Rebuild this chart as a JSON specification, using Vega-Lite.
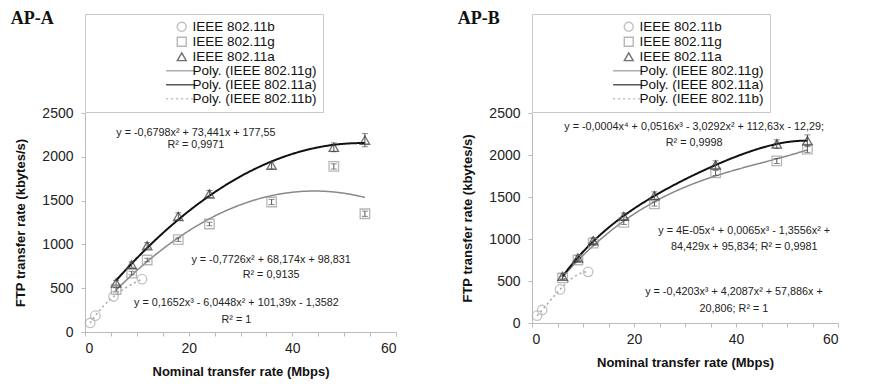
{
  "$schema": "https://vega.github.io/schema/vega-lite/v6.json",
  "background": "white",
  "padding": {"left": 10, "top": 9, "right": 5, "bottom": 5},
  "datasets": {
    "A": [
      {"x": 1, "y": 103, "err": 0, "pt": "IEEE 802.11b", "fit": "Poly. (IEEE 802.11b)"},
      {"x": 2, "y": 186, "err": 0, "pt": "IEEE 802.11b", "fit": "Poly. (IEEE 802.11b)"},
      {"x": 5.5, "y": 405, "err": 0, "pt": "IEEE 802.11b", "fit": "Poly. (IEEE 802.11b)"},
      {"x": 11, "y": 603, "err": 0, "pt": "IEEE 802.11b", "fit": "Poly. (IEEE 802.11b)"},
      {"x": 6, "y": 485, "err": 20, "pt": "IEEE 802.11g", "fit": "Poly. (IEEE 802.11g)"},
      {"x": 9, "y": 673, "err": 20, "pt": "IEEE 802.11g", "fit": "Poly. (IEEE 802.11g)"},
      {"x": 12, "y": 822, "err": 20, "pt": "IEEE 802.11g", "fit": "Poly. (IEEE 802.11g)"},
      {"x": 18, "y": 1054, "err": 20, "pt": "IEEE 802.11g", "fit": "Poly. (IEEE 802.11g)"},
      {"x": 24, "y": 1233, "err": 20, "pt": "IEEE 802.11g", "fit": "Poly. (IEEE 802.11g)"},
      {"x": 36, "y": 1484, "err": 30, "pt": "IEEE 802.11g", "fit": "Poly. (IEEE 802.11g)"},
      {"x": 48, "y": 1890, "err": 30, "pt": "IEEE 802.11g", "fit": "Poly. (IEEE 802.11g)"},
      {"x": 54, "y": 1350, "err": 30, "pt": "IEEE 802.11g", "fit": "Poly. (IEEE 802.11g)"},
      {"x": 6, "y": 559, "err": 30, "pt": "IEEE 802.11a", "fit": "Poly. (IEEE 802.11a)"},
      {"x": 9, "y": 769, "err": 30, "pt": "IEEE 802.11a", "fit": "Poly. (IEEE 802.11a)"},
      {"x": 12, "y": 985, "err": 35, "pt": "IEEE 802.11a", "fit": "Poly. (IEEE 802.11a)"},
      {"x": 18, "y": 1320, "err": 40, "pt": "IEEE 802.11a", "fit": "Poly. (IEEE 802.11a)"},
      {"x": 24, "y": 1575, "err": 40, "pt": "IEEE 802.11a", "fit": "Poly. (IEEE 802.11a)"},
      {"x": 36, "y": 1903, "err": 40, "pt": "IEEE 802.11a", "fit": "Poly. (IEEE 802.11a)"},
      {"x": 48, "y": 2108, "err": 50, "pt": "IEEE 802.11a", "fit": "Poly. (IEEE 802.11a)"},
      {"x": 54, "y": 2190, "err": 75, "pt": "IEEE 802.11a", "fit": "Poly. (IEEE 802.11a)"}
    ],
    "B": [
      {"x": 1, "y": 87, "err": 0, "pt": "IEEE 802.11b", "fit": "Poly. (IEEE 802.11b)"},
      {"x": 2, "y": 155, "err": 0, "pt": "IEEE 802.11b", "fit": "Poly. (IEEE 802.11b)"},
      {"x": 5.5, "y": 400, "err": 0, "pt": "IEEE 802.11b", "fit": "Poly. (IEEE 802.11b)"},
      {"x": 11, "y": 609, "err": 0, "pt": "IEEE 802.11b", "fit": "Poly. (IEEE 802.11b)"},
      {"x": 6, "y": 536, "err": 20, "pt": "IEEE 802.11g", "fit": "Poly. (IEEE 802.11g)"},
      {"x": 9, "y": 750, "err": 20, "pt": "IEEE 802.11g", "fit": "Poly. (IEEE 802.11g)"},
      {"x": 12, "y": 952, "err": 20, "pt": "IEEE 802.11g", "fit": "Poly. (IEEE 802.11g)"},
      {"x": 18, "y": 1198, "err": 25, "pt": "IEEE 802.11g", "fit": "Poly. (IEEE 802.11g)"},
      {"x": 24, "y": 1417, "err": 25, "pt": "IEEE 802.11g", "fit": "Poly. (IEEE 802.11g)"},
      {"x": 36, "y": 1786, "err": 30, "pt": "IEEE 802.11g", "fit": "Poly. (IEEE 802.11g)"},
      {"x": 48, "y": 1929, "err": 30, "pt": "IEEE 802.11g", "fit": "Poly. (IEEE 802.11g)"},
      {"x": 54, "y": 2071, "err": 40, "pt": "IEEE 802.11g", "fit": "Poly. (IEEE 802.11g)"},
      {"x": 6, "y": 556, "err": 30, "pt": "IEEE 802.11a", "fit": "Poly. (IEEE 802.11a)"},
      {"x": 9, "y": 775, "err": 30, "pt": "IEEE 802.11a", "fit": "Poly. (IEEE 802.11a)"},
      {"x": 12, "y": 980, "err": 35, "pt": "IEEE 802.11a", "fit": "Poly. (IEEE 802.11a)"},
      {"x": 18, "y": 1270, "err": 40, "pt": "IEEE 802.11a", "fit": "Poly. (IEEE 802.11a)"},
      {"x": 24, "y": 1516, "err": 45, "pt": "IEEE 802.11a", "fit": "Poly. (IEEE 802.11a)"},
      {"x": 36, "y": 1881, "err": 50, "pt": "IEEE 802.11a", "fit": "Poly. (IEEE 802.11a)"},
      {"x": 48, "y": 2131, "err": 50, "pt": "IEEE 802.11a", "fit": "Poly. (IEEE 802.11a)"},
      {"x": 54, "y": 2170, "err": 70, "pt": "IEEE 802.11a", "fit": "Poly. (IEEE 802.11a)"}
    ],
    "eqA": [
      {"x": 21.4, "y": 2272, "label": "y = -0,6798x² + 73,441x + 177,55"},
      {"x": 21.4, "y": 2135, "label": "R² = 0,9971"},
      {"x": 35.9, "y": 822, "label": "y = -0,7726x² + 68,174x + 98,831"},
      {"x": 35.9, "y": 651, "label": "R² = 0,9135"},
      {"x": 29.2, "y": 331, "label": "y = 0,1652x³ - 6,0448x² + 101,39x - 1,3582"},
      {"x": 29.2, "y": 137, "label": "R² = 1"}
    ],
    "eqB": [
      {"x": 31.8, "y": 2333, "label": "y = -0,0004x⁴ + 0,0516x³ - 3,0292x² + 112,63x - 12,29;"},
      {"x": 31.8, "y": 2143, "label": "R² = 0,9998"},
      {"x": 41.6, "y": 1095, "label": "y = 4E-05x⁴ + 0,0065x³ - 1,3556x² +"},
      {"x": 41.6, "y": 905, "label": "84,429x + 95,834; R² = 0,9981"},
      {"x": 39.6, "y": 369, "label": "y = -0,4203x³ + 4,2087x² + 57,886x +"},
      {"x": 39.6, "y": 167, "label": "20,806; R² = 1"}
    ]
  },
  "hconcat": [
    {
      "title": {"text": "AP-A", "anchor": "start", "font": "Liberation Serif", "fontSize": 18, "fontWeight": "bold", "color": "#111", "dx": -4, "offset": -14},
      "width": 311,
      "height": 219,
      "data": {"name": "A"},
      "encoding": {
        "x": {"field": "x", "type": "quantitative", "scale": {"domain": [0, 60], "nice": false}, "title": "Nominal transfer rate (Mbps)",
              "axis": {"values": [0,5,10,15,20,25,30,35,40,45,50,55,60], "labelExpr": "datum.value % 20 === 0 ? datum.label : ''"}},
        "y": {"field": "y", "type": "quantitative", "scale": {"domain": [0, 2500], "nice": false}, "title": "FTP transfer rate (kbytes/s)",
              "axis": {"values": [0,500,1000,1500,2000,2500], "format": "d"}}
      },
      "layer": [
        {
          "transform": [{"filter": "datum.pt === 'IEEE 802.11b'"}, {"fold": ["fit"], "as": ["kind", "s"]}, {"regression": "y", "on": "x", "groupby": ["s"], "method": "poly", "order": 3}],
          "mark": {"type": "line", "strokeWidth": 1.6},
          "encoding": {
            "color": {"field": "s", "type": "nominal", "title": null, "scale": {"domain": ["IEEE 802.11b", "IEEE 802.11g", "IEEE 802.11a", "Poly. (IEEE 802.11g)", "Poly. (IEEE 802.11a)", "Poly. (IEEE 802.11b)"], "range": ["#aaaaaa", "#999999", "#333333", "#888888", "#111111", "#aaaaaa"]}},
            "strokeDash": {"field": "s", "type": "nominal", "title": null, "scale": {"domain": ["IEEE 802.11b", "IEEE 802.11g", "IEEE 802.11a", "Poly. (IEEE 802.11g)", "Poly. (IEEE 802.11a)", "Poly. (IEEE 802.11b)"], "range": [[1, 0], [1, 0], [1, 0], [1, 0], [1, 0], [2, 3]]}}
          }
        },
        {
          "transform": [{"filter": "datum.pt === 'IEEE 802.11g'"}, {"fold": ["fit"], "as": ["kind", "s"]}, {"regression": "y", "on": "x", "groupby": ["s"], "method": "poly", "order": 2}],
          "mark": {"type": "line", "strokeWidth": 1.5},
          "encoding": {
            "color": {"field": "s", "type": "nominal", "title": null},
            "strokeDash": {"field": "s", "type": "nominal", "title": null}
          }
        },
        {
          "transform": [{"filter": "datum.pt === 'IEEE 802.11a'"}, {"fold": ["fit"], "as": ["kind", "s"]}, {"regression": "y", "on": "x", "groupby": ["s"], "method": "poly", "order": 2}],
          "mark": {"type": "line", "strokeWidth": 2},
          "encoding": {
            "color": {"field": "s", "type": "nominal", "title": null},
            "strokeDash": {"field": "s", "type": "nominal", "title": null}
          }
        },
        {
          "transform": [{"filter": "datum.err > 0"}],
          "mark": {"type": "errorbar", "ticks": {"size": 6}, "color": "#555"},
          "encoding": {"yError": {"field": "err"}}
        },
        {
          "transform": [{"fold": ["pt"], "as": ["kind", "s"]}],
          "mark": {"type": "point", "filled": false, "strokeWidth": 1.3, "size": 90},
          "encoding": {
            "color": {"field": "s", "type": "nominal", "title": null},
            "shape": {"field": "s", "type": "nominal", "title": null, "scale": {"domain": ["IEEE 802.11b", "IEEE 802.11g", "IEEE 802.11a", "Poly. (IEEE 802.11g)", "Poly. (IEEE 802.11a)", "Poly. (IEEE 802.11b)"], "range": ["circle", "square", "triangle-up", "M-3.5,0H3", "M-3.5,0H3", "M-3.5,0H3"]}}
          }
        },
        {
          "data": {"name": "eqA"},
          "mark": {"type": "text", "fontSize": 10.8, "font": "Liberation Sans", "color": "#222"},
          "encoding": {"text": {"field": "label"}}
        }
      ]
    },
    {
      "title": {"text": "AP-B", "anchor": "start", "font": "Liberation Serif", "fontSize": 18, "fontWeight": "bold", "color": "#111", "dx": -4, "offset": -14},
      "width": 306,
      "height": 210,
      "data": {"name": "B"},
      "encoding": {
        "x": {"field": "x", "type": "quantitative", "scale": {"domain": [0, 60], "nice": false}, "title": "Nominal transfer rate (Mbps)",
              "axis": {"values": [0,5,10,15,20,25,30,35,40,45,50,55,60], "labelExpr": "datum.value % 20 === 0 ? datum.label : ''"}},
        "y": {"field": "y", "type": "quantitative", "scale": {"domain": [0, 2500], "nice": false}, "title": "FTP transfer rate (kbytes/s)",
              "axis": {"values": [0,500,1000,1500,2000,2500], "format": "d"}}
      },
      "layer": [
        {
          "transform": [{"filter": "datum.pt === 'IEEE 802.11b'"}, {"fold": ["fit"], "as": ["kind", "s"]}, {"regression": "y", "on": "x", "groupby": ["s"], "method": "poly", "order": 3}],
          "mark": {"type": "line", "strokeWidth": 1.6},
          "encoding": {
            "color": {"field": "s", "type": "nominal", "title": null, "scale": {"domain": ["IEEE 802.11b", "IEEE 802.11g", "IEEE 802.11a", "Poly. (IEEE 802.11g)", "Poly. (IEEE 802.11a)", "Poly. (IEEE 802.11b)"], "range": ["#aaaaaa", "#999999", "#333333", "#888888", "#111111", "#aaaaaa"]}},
            "strokeDash": {"field": "s", "type": "nominal", "title": null, "scale": {"domain": ["IEEE 802.11b", "IEEE 802.11g", "IEEE 802.11a", "Poly. (IEEE 802.11g)", "Poly. (IEEE 802.11a)", "Poly. (IEEE 802.11b)"], "range": [[1, 0], [1, 0], [1, 0], [1, 0], [1, 0], [2, 3]]}}
          }
        },
        {
          "transform": [{"filter": "datum.pt === 'IEEE 802.11g'"}, {"fold": ["fit"], "as": ["kind", "s"]}, {"regression": "y", "on": "x", "groupby": ["s"], "method": "poly", "order": 4}],
          "mark": {"type": "line", "strokeWidth": 1.5},
          "encoding": {
            "color": {"field": "s", "type": "nominal", "title": null},
            "strokeDash": {"field": "s", "type": "nominal", "title": null}
          }
        },
        {
          "transform": [{"filter": "datum.pt === 'IEEE 802.11a'"}, {"fold": ["fit"], "as": ["kind", "s"]}, {"regression": "y", "on": "x", "groupby": ["s"], "method": "poly", "order": 4}],
          "mark": {"type": "line", "strokeWidth": 2},
          "encoding": {
            "color": {"field": "s", "type": "nominal", "title": null},
            "strokeDash": {"field": "s", "type": "nominal", "title": null}
          }
        },
        {
          "transform": [{"filter": "datum.err > 0"}],
          "mark": {"type": "errorbar", "ticks": {"size": 6}, "color": "#555"},
          "encoding": {"yError": {"field": "err"}}
        },
        {
          "transform": [{"fold": ["pt"], "as": ["kind", "s"]}],
          "mark": {"type": "point", "filled": false, "strokeWidth": 1.3, "size": 90},
          "encoding": {
            "color": {"field": "s", "type": "nominal", "title": null},
            "shape": {"field": "s", "type": "nominal", "title": null, "scale": {"domain": ["IEEE 802.11b", "IEEE 802.11g", "IEEE 802.11a", "Poly. (IEEE 802.11g)", "Poly. (IEEE 802.11a)", "Poly. (IEEE 802.11b)"], "range": ["circle", "square", "triangle-up", "M-3.5,0H3", "M-3.5,0H3", "M-3.5,0H3"]}}
          }
        },
        {
          "data": {"name": "eqB"},
          "mark": {"type": "text", "fontSize": 10.8, "font": "Liberation Sans", "color": "#222"},
          "encoding": {"text": {"field": "label"}}
        }
      ]
    }
  ],
  "spacing": 60,
  "resolve": {
    "scale": {"x": "independent", "y": "independent", "color": "independent", "shape": "independent", "strokeDash": "independent"},
    "legend": {"color": "independent", "shape": "independent", "strokeDash": "independent"}
  },
  "config": {
    "font": "Liberation Sans",
    "view": {"stroke": null},
    "axis": {
      "labelFont": "Liberation Sans", "labelFontSize": 14, "labelColor": "#222",
      "titleFont": "Liberation Sans", "titleFontSize": 13, "titleFontWeight": "bold", "titleColor": "#111",
      "domainColor": "#bbb", "tickColor": "#bbb", "tickSize": 4, "grid": false, "labelPadding": 8
    },
    "axisY": {"titlePadding": 14},
    "axisX": {"titlePadding": 10, "labelPadding": 5},
    "legend": {
      "orient": "none", "legendX": 0, "legendY": -99,
      "strokeColor": "#c8c8c8", "padding": 6,
      "labelFont": "Liberation Sans", "labelFontSize": 13.5, "labelColor": "#111",
      "symbolSize": 80, "symbolStrokeWidth": 1.4, "rowPadding": -2.5,
      "symbolOffset": 84, "labelOffset": 4
    }
  }
}
